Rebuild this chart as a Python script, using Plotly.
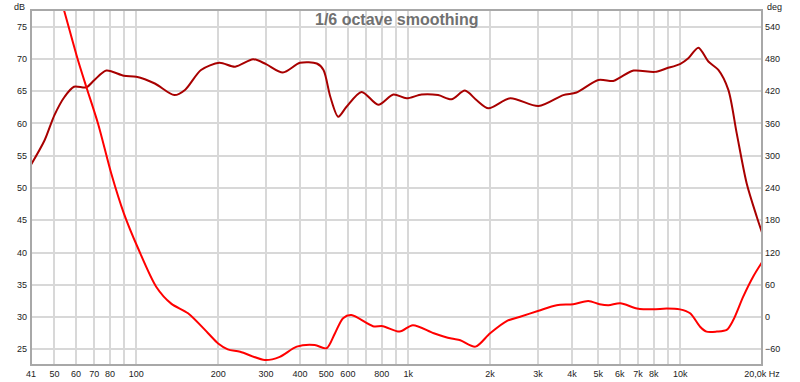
import plotly.graph_objects as go
import math

# SPL curve (left axis, dB)
spl_freq = [41, 46, 50, 54.5, 59, 65.5, 70, 77.6, 90, 100, 117, 138, 151, 173, 202, 231,
            269, 300, 346, 400, 461, 488, 517, 553, 593, 674, 776, 882, 986, 1120, 1288,
            1443, 1616, 1786, 1973, 2370, 3016, 3716, 4157, 5000, 5676, 6024, 6745, 8073,
            8926, 9985, 10717, 11670, 12700, 13820, 15040, 16140, 17570, 19130, 20000]
spl_db = [53.6, 57.4, 61.3, 64.15, 65.7, 65.6, 66.7, 68.2, 67.4, 67.25, 66.2, 64.4, 65.2,
          68.3, 69.4, 68.8, 69.95, 69.2, 67.9, 69.4, 69.3, 68.3, 64.15, 61.05, 62.6, 64.9,
          62.9, 64.5, 63.9, 64.5, 64.4, 63.75, 65.1, 63.6, 62.35, 63.9, 62.7, 64.4, 64.8,
          66.75, 66.6, 67.15, 68.2, 68.0, 68.55, 69.2, 70.1, 71.75, 69.6, 68.3, 65.2, 58.5,
          50.7, 45.55, 43.1]

# Phase curve (right axis, deg)
ph_freq = [41, 46, 50, 54.2, 61, 65.5, 72.3, 80.9, 90, 101.5, 118.5, 134.4, 155, 183.7,
           200, 217, 241, 297, 337, 389, 453, 501, 538, 576, 618, 742, 807, 930, 1040,
           1242, 1443, 1554, 1767, 2001, 2310, 2580, 3016, 3516, 4044, 4596, 5055, 5449,
           6024, 6941, 7955, 8926, 9985, 10883, 11840, 12500, 13630, 14830, 15680, 17060,
           18550, 20000]
ph_deg = [790, 690, 632, 571, 478, 428, 360, 267, 193, 128, 56, 25, 7, -30, -49, -60,
          -64.5, -80, -74, -55, -52, -58, -30, -2, 3.6, -17, -17, -27, -15, -30, -40, -43,
          -55, -30, -7, 0.6, 11.8, 22, 24, 30, 24, 22, 25.6, 16, 14.3, 16, 14.3, 7, -18,
          -27, -27, -24, -5.6, 38, 75, 102]

x_tickvals = [41, 50, 60, 70, 80, 90, 100, 200, 300, 400, 500, 600, 700, 800, 900, 1000,
              2000, 3000, 4000, 5000, 6000, 7000, 8000, 9000, 10000, 20000]
x_ticktext = ["41", "50", "60", "70", "80", "", "100", "200", "300", "400", "500", "600",
              "", "800", "", "1k", "2k", "3k", "4k", "5k", "6k", "7k", "8k", "", "10k",
              "20,0k Hz"]
y_tickvals = [25, 30, 35, 40, 45, 50, 55, 60, 65, 70, 75]
y2_tickvals = [-60, 0, 60, 120, 180, 240, 300, 360, 420, 480, 540]

title_text = "1/6 octave smoothing"

y_range = [22.57, 77.59]
y2_range = [(y_range[0] - 30) * 12, (y_range[1] - 30) * 12]

tick_font = dict(family="Liberation Sans, Arial, sans-serif", size=9, color="#222222")
grid_col = "#d8d8d8"

fig = go.Figure()
fig.add_trace(go.Scatter(x=ph_freq, y=ph_deg, yaxis="y2", mode="lines",
                         line=dict(color="#ff0000", width=2, shape="spline", smoothing=0.8),
                         showlegend=False, hoverinfo="skip"))
fig.add_trace(go.Scatter(x=spl_freq, y=spl_db, mode="lines",
                         line=dict(color="#a80000", width=2, shape="spline", smoothing=0.8),
                         showlegend=False, hoverinfo="skip"))

fig.update_layout(
    width=800, height=382,
    margin=dict(l=31, r=38, t=10, b=17, autoexpand=False),
    paper_bgcolor="white", plot_bgcolor="white",
    xaxis=dict(type="log", range=[math.log10(41), math.log10(20000)],
               tickvals=x_tickvals, ticktext=x_ticktext, tickfont=tick_font,
               showgrid=True, gridcolor=grid_col, gridwidth=1.5, zeroline=False,
               ticks="", showline=False, ticklabelstandoff=2, automargin=False),
    yaxis=dict(range=y_range, tickvals=y_tickvals, tickfont=tick_font,
               showgrid=True, gridcolor=grid_col, gridwidth=1.5, zeroline=False,
               ticks="", showline=False, ticklabelstandoff=3, automargin=False),
    yaxis2=dict(range=y2_range, tickvals=y2_tickvals, tickfont=tick_font,
                overlaying="y", side="right", showgrid=False, zeroline=False,
                ticks="", showline=False, ticklabelstandoff=2, automargin=False),
)

fig.add_shape(type="rect", xref="paper", yref="paper", x0=0, x1=1, y0=0, y1=1,
              line=dict(color="#a8a8a8", width=2), layer="above")

fig.add_annotation(text=title_text, xref="paper", yref="paper", x=0.5, y=1,
                   xanchor="center", yanchor="top", yshift=1, showarrow=False,
                   font=dict(family="Liberation Sans, Arial, sans-serif", size=16,
                             color="#707070", weight="bold"))
fig.add_annotation(text="dB", xref="paper", yref="paper", x=0, y=1, xanchor="right",
                   yanchor="bottom", xshift=-4, yshift=-4, showarrow=False, font=tick_font)
fig.add_annotation(text="deg", xref="paper", yref="paper", x=1, y=1, xanchor="left",
                   yanchor="bottom", xshift=3, yshift=-4, showarrow=False, font=tick_font)

fig.write_html("out.html", config={"displayModeBar": False},
               post_script="document.body.style.margin='0';document.body.style.overflow='hidden';")
